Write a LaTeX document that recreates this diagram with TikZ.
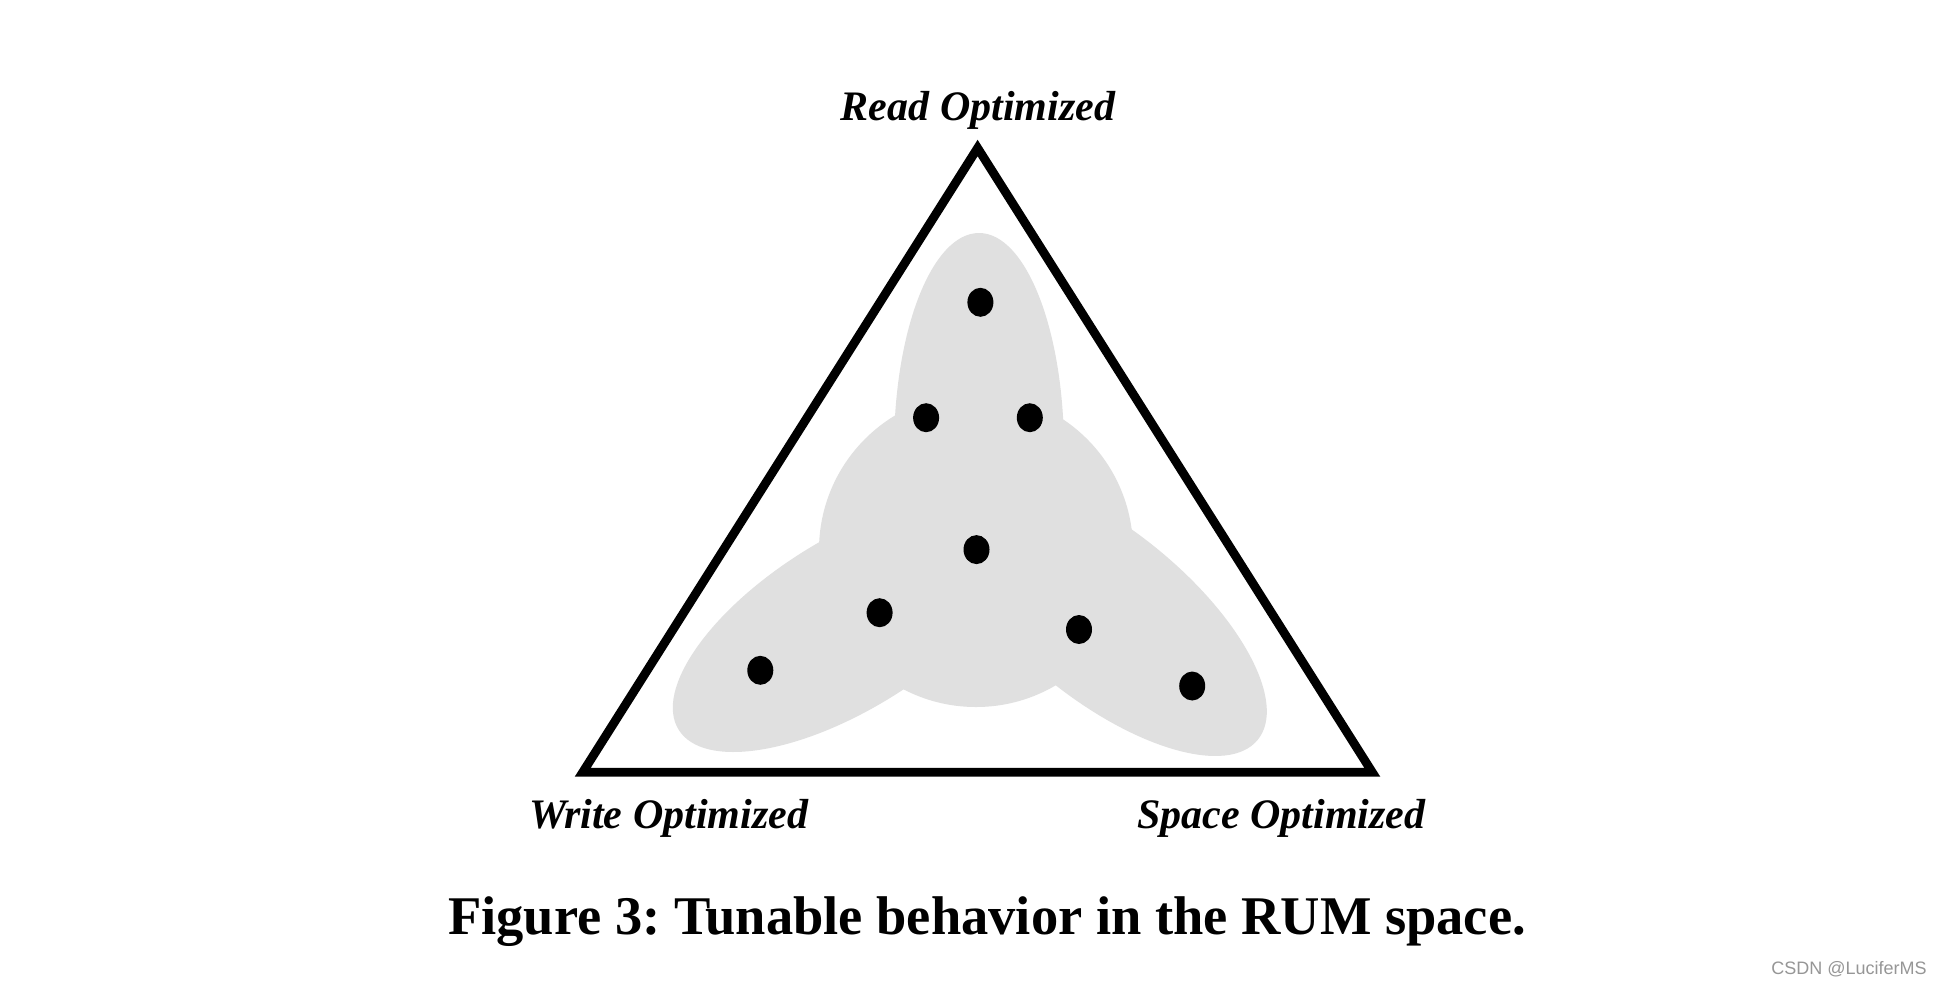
\documentclass[tikz,border=0pt]{standalone}
\usepackage{fontspec}
\setmainfont{Liberation Serif}
\newfontfamily\wmfont{Liberation Sans}
\usetikzlibrary{shapes.geometric}
\definecolor{blobgray}{RGB}{224,224,224}
\definecolor{wmgray}{RGB}{150,150,150}
\frenchspacing
\begin{document}
\begin{tikzpicture}[x=1pt,y=-1pt,
  cornerlabel/.style={font=\fontsize{42}{50}\selectfont\bfseries\itshape, inner sep=0pt, anchor=base},
  dotmark/.style={shape=ellipse, fill=black, draw=none, minimum width=26pt, minimum height=29pt, inner sep=0pt},
  blob/.style={fill=blobgray, draw=none}]
\useasboundingbox (0,0) rectangle (1942,986);
\fill[white] (0,0) rectangle (1942,986);
% blob
\coordinate (topc) at (979,450);
\coordinate (midc) at (976,550);
\coordinate (leftc) at (848.3,623.8);
\coordinate (rightc) at (1102.4,613.8);
\fill[blob] (topc) ellipse [x radius=85pt, y radius=217pt];
\fill[blob] (midc) circle [radius=157pt];
\fill[blob, rotate around={32:(leftc)}] (leftc) ellipse [x radius=200pt, y radius=85pt];
\fill[blob, rotate around={-39:(rightc)}] (rightc) ellipse [x radius=200pt, y radius=85pt];
% triangle
\coordinate (R) at (977.6,148);
\coordinate (W) at (582.7,772.3);
\coordinate (S) at (1372.3,772.3);
\draw[line width=8.8pt, miter limit=10, line join=miter] (R) -- (W) -- (S) -- cycle;
% dots
\node[dotmark] (d1) at (980.4,302.3) {};
\node[dotmark] (d2) at (926.1,417.7) {};
\node[dotmark] (d3) at (1029.8,417.7) {};
\node[dotmark] (d4) at (976.5,549.6) {};
\node[dotmark] (d5) at (879.6,612.7) {};
\node[dotmark] (d6) at (1079,629.5) {};
\node[dotmark] (d7) at (760.3,670.3) {};
\node[dotmark] (d8) at (1192.2,686) {};
% labels
\node[cornerlabel] (lr) at (978,120) {Read Optimized};
\node[cornerlabel] (lw) at (669,828.3) {Write Optimized};
\node[cornerlabel] (ls) at (1281.5,828.3) {Space Optimized};
\node[font=\fontsize{54.5}{60}\selectfont\bfseries, inner sep=0pt, anchor=base] (cap) at (987,934.3) {Figure 3: Tunable behavior in the RUM space.};
\node[font=\wmfont\fontsize{18}{21}\selectfont, text=wmgray, inner sep=0pt, anchor=base] (wm) at (1849,974.7) {CSDN @LuciferMS};
\end{tikzpicture}
\end{document}
